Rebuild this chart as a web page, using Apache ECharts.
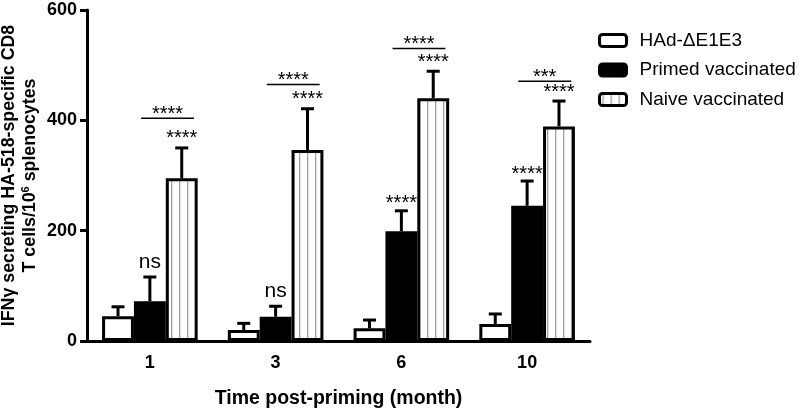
<!DOCTYPE html>
<html>
<head>
<meta charset="utf-8">
<script src="https://cdn.jsdelivr.net/npm/echarts@6/dist/echarts.min.js"></script>
<style>html,body{margin:0;padding:0;background:#fff}#c{width:800px;height:413px}</style>
</head>
<body>
<div id="c"></div>
<script>
// ---- data ----
const categories = ['1', '3', '6', '10'];
const seriesNames = ['HAd-\u0394E1E3', 'Primed vaccinated', 'Naive vaccinated'];
const hadMean = [45, 20, 23, 31];
const hadErr = [17, 12, 15, 18];
const primedMean = [72, 44, 199, 245];
const primedErr = [44, 19, 37, 45];
const naiveMean = [295, 346, 440, 389];
const naiveErr = [55, 75, 49, 46];
const primedSig = ['ns', 'ns', '****', '****'];
const naiveSig = ['****', '****', '****', '****'];
const bracketSig = ['****', '****', '****', '***'];
const bracketLevel = [404, 465, 530, 471];
const yMin = 0, yMax = 600, yStep = 200;

// ---- rendering ----
const FONT = 'Liberation Sans, Arial, Helvetica, sans-serif';
const GAP = 0.24;

const pc = document.createElement('canvas');
pc.width = 8; pc.height = 8;
const pctx = pc.getContext('2d');
pctx.fillStyle = '#fff'; pctx.fillRect(0, 0, 8, 8);
pctx.fillStyle = '#a0a0a0'; pctx.fillRect(3, 0, 1.3, 8);

const means = [hadMean, primedMean, naiveMean];
const errs = [hadErr, primedErr, naiveErr];
const fills = ['#ffffff', '#000000', { image: pc, repeat: 'repeat' }];

const errData = [];
means.forEach((m, s) => m.forEach((v, i) => errData.push([i, v, errs[s][i], s])));

function barX(api, cat, s) {
  const c = api.coord([cat, 0]);
  const band = api.size([1, 0])[0];
  const w = band * (1 - GAP) / 3;
  return c[0] + (s - 1) * w;
}

const chart = echarts.init(document.getElementById('c'));
const barSeries = seriesNames.map((n, s) => ({
  name: n,
  type: 'bar',
  data: means[s],
  barGap: '0%',
  barCategoryGap: (GAP * 100) + '%',
  itemStyle: { color: fills[s], borderColor: '#000', borderWidth: 3 },
  z: 2
}));

chart.setOption({
  animation: false,
  backgroundColor: '#fff',
  grid: { left: 87, right: 210, top: 10, bottom: 72, containLabel: false, outerBoundsMode: 'none' },
  legend: {
    orient: 'vertical', left: 593, top: 26,
    itemWidth: 27, itemHeight: 12, itemGap: 10.5,
    icon: 'roundRect',
    data: seriesNames,
    itemStyle: { borderWidth: 3 },
    textStyle: { fontSize: 19, fontFamily: FONT, color: '#000', padding: [0, 0, 0, 8] }
  },
  xAxis: {
    type: 'category', data: categories,
    name: 'Time post-priming (month)', nameLocation: 'middle', nameGap: 48,
    nameMoveOverlap: false,
    nameTextStyle: { fontSize: 19.5, fontWeight: 'bold', fontFamily: FONT, color: '#000' },
    axisLine: { lineStyle: { color: '#000', width: 3 } },
    axisTick: { alignWithLabel: true, length: 6, lineStyle: { color: '#000', width: 3 } },
    axisLabel: { fontSize: 18, fontWeight: 'bold', fontFamily: FONT, color: '#000', margin: 13 }
  },
  yAxis: {
    type: 'value', min: yMin, max: yMax, interval: yStep,
    name: '{a|IFN\u03b3 secreting HA-518-specific CD8}\n{a|T cells/10}{s|6}{a| splenocytes}',
    nameLocation: 'middle', nameGap: 46,
    nameMoveOverlap: false,
    nameTextStyle: {
      color: '#000',
      rich: {
        a: { fontSize: 17.8, fontWeight: 'bold', fontFamily: FONT, color: '#000', lineHeight: 21 },
        s: { fontSize: 11, fontWeight: 'bold', fontFamily: FONT, color: '#000', verticalAlign: 'top', lineHeight: 21 }
      }
    },
    axisLine: { show: true, lineStyle: { color: '#000', width: 3 } },
    axisTick: { show: true, length: 7, lineStyle: { color: '#000', width: 3 } },
    splitLine: { show: false },
    axisLabel: { fontSize: 18, fontWeight: 'bold', fontFamily: FONT, color: '#000', margin: 10 }
  },
  series: barSeries.concat([
    {
      type: 'custom', z: 1,
      data: errData,
      renderItem: function (params, api) {
        const cat = api.value(0), m = api.value(1), e = api.value(2), s = api.value(3);
        const x = barX(api, cat, s);
        const y0 = api.coord([cat, m])[1];
        const y1 = api.coord([cat, m + e])[1];
        const st = { stroke: '#000', lineWidth: 3 };
        return { type: 'group', children: [
          { type: 'line', shape: { x1: x, y1: y0, x2: x, y2: y1 }, style: st },
          { type: 'line', shape: { x1: x - 6.5, y1: y1, x2: x + 6.5, y2: y1 }, style: st }
        ] };
      }
    },
    {
      type: 'custom', z: 3,
      data: categories.map((c, i) => [i]),
      renderItem: function (params, api) {
        const i = api.value(0);
        const band = api.size([1, 0])[0];
        const cx = api.coord([i, 0])[0];
        const xb = barX(api, i, 1), xn = barX(api, i, 2);
        const pTop = api.coord([i, primedMean[i] + primedErr[i]])[1];
        const nTop = api.coord([i, naiveMean[i] + naiveErr[i]])[1];
        const bl = api.coord([i, bracketLevel[i]])[1];
        const isNs = primedSig[i] === 'ns';
        const tx = (t, x, y, fs) => ({ type: 'text', style: {
          text: t, x: x, y: y, align: 'center', verticalAlign: 'middle',
          fontSize: fs, fontFamily: FONT, fill: '#000' } });
        const x1 = cx - band * 0.07, x2 = cx + band * 0.35;
        return { type: 'group', children: [
          tx(primedSig[i], xb, isNs ? pTop - 15 : pTop - 7, isNs ? 21 : 20),
          tx(naiveSig[i], xn, nTop - 9, 20),
          { type: 'line', shape: { x1: x1, y1: bl, x2: x2, y2: bl }, style: { stroke: '#000', lineWidth: 1.5 } },
          tx(bracketSig[i], (x1 + x2) / 2, bl - 4, 20)
        ] };
      }
    }
  ])
});
</script>
</body>
</html>
